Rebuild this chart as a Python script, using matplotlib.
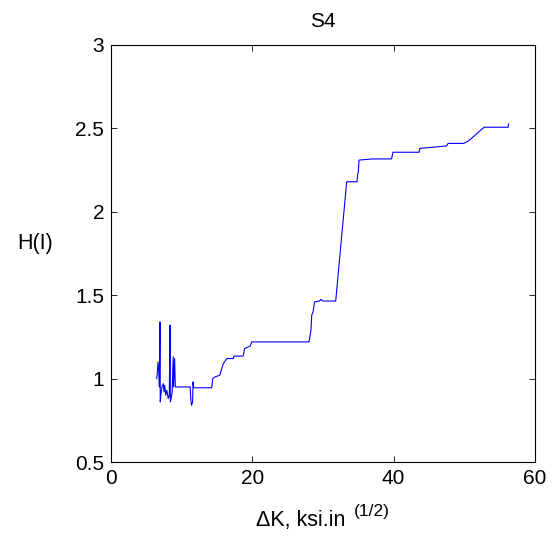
import matplotlib
matplotlib.use("Agg")
import matplotlib.pyplot as plt

plt.rcParams['font.family'] = ['Liberation Sans', 'DejaVu Sans']

# Crack-growth entropy vs stress-intensity range
delta_k = [6.46, 6.55, 6.65, 6.75, 6.85, 6.93, 6.97, 7.05, 7.2, 7.4, 7.5, 7.6, 7.75, 7.9, 8.1, 8.25,
           8.35, 8.4, 8.5, 8.65, 8.8, 8.85, 9.0, 9.1, 9.2, 10.0, 11.2, 11.3, 11.4, 11.55, 11.6,
           11.7, 12.5, 14.25, 14.4, 14.7, 15.4, 15.6, 15.9, 16.4, 17.3, 17.4, 18.7, 18.9,
           19.7, 19.9, 25.0, 28.0, 28.06, 28.3, 28.4, 28.6, 28.8, 29.5, 29.7, 30.0, 31.8,
           33.35, 34.8, 34.9, 35.0, 35.1, 37.0, 39.7, 39.9, 43.6, 43.7, 47.5, 47.7, 49.9,
           50.6, 52.8, 56.2, 56.25]
h_value = [1.00, 1.03, 1.10, 1.06, 0.95, 1.34, 0.86, 0.90, 0.95, 0.97, 0.92, 0.96, 0.90, 0.93, 0.88, 0.90,
           1.32, 0.86, 0.88, 0.92, 1.13, 0.95, 1.12, 0.95, 0.95, 0.95, 0.95, 0.87, 0.84, 0.86, 0.98,
           0.945, 0.945, 0.945, 1.00, 1.01, 1.02, 1.05, 1.09, 1.12, 1.12, 1.135, 1.135, 1.18,
           1.195, 1.22, 1.22, 1.22, 1.23, 1.29, 1.38, 1.40, 1.46, 1.465, 1.475, 1.465, 1.465,
           2.18, 2.18, 2.22, 2.24, 2.31, 2.317, 2.317, 2.357, 2.357, 2.38, 2.395, 2.41, 2.41,
           2.425, 2.507, 2.507, 2.526]

x_ticks = [0, 20, 40, 60]
y_ticks = [0.5, 1, 1.5, 2, 2.5, 3]
y_tick_labels = ['0.5', '1', '1.5', '2', '2.5', '3']

W, H = 553, 540
fig = plt.figure(figsize=(W / 100, H / 100), dpi=100)
ax = fig.add_axes([111 / W, 1 - 462 / H, 424 / W, 417 / H])
ax.plot(delta_k, h_value, color='#0000ff', linewidth=0.8)

ax.set_xlim(0, 60)
ax.set_ylim(0.5, 3)
ax.set_xticks(x_ticks)
ax.set_yticks(y_ticks)
ax.set_yticklabels(y_tick_labels)
ax.tick_params(direction='in', top=True, right=True, labelsize=15, length=4, width=0.6)
ax.tick_params(axis='x', pad=5)
ax.tick_params(axis='y', pad=5)
for sp in ax.spines.values():
    sp.set_linewidth(0.8)

ax.set_title('S4', fontsize=15, pad=13)
ax.set_ylabel('H(I)', fontsize=15.5, rotation=0, ha='right', va='center')
ax.yaxis.set_label_coords(-0.137, 0.523)

# x label with a raised exponent, built from two text pieces
renderer = fig.canvas.get_renderer()
main = fig.text(0, 1 - 526 / H, '\u0394K, ksi.in', fontsize=15.5, va='baseline', ha='left')
sup = fig.text(0, 1 - 516 / H, '(1/2)', fontsize=12.5, va='baseline', ha='left')
w_main = main.get_window_extent(renderer).width
w_sup = sup.get_window_extent(renderer).width
gap = 8
total = w_main + gap + w_sup
x0 = (111 + 212) - total / 2
main.set_x(x0 / W)
sup.set_x((x0 + w_main + gap) / W)

fig.savefig('out.png', dpi=100)
